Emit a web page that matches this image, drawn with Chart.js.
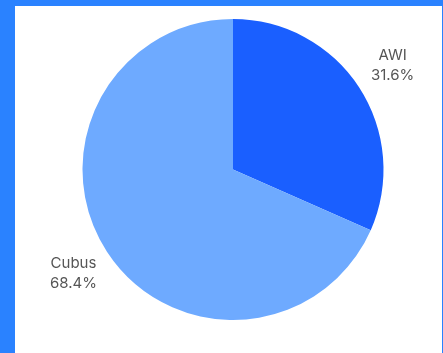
<!DOCTYPE html>
<html>
<head>
<meta charset="utf-8">
<script src="https://cdn.jsdelivr.net/npm/chart.js@4/dist/chart.umd.min.js"></script>
<style>
  html, body { margin: 0; padding: 0; }
  body { width: 443px; height: 353px; background: #2a82ff; position: relative; overflow: hidden; }
  #panel { position: absolute; left: 15px; top: 6px; width: 427px; height: 347px; background: #fff; }
</style>
</head>
<body>
<div id="panel"><canvas id="chart" width="427" height="347"></canvas></div>
<script>
const labels = ["AWI", "Cubus"];
const shares = [31.6, 68.4];
const colors = ["#1a5fff", "#6eaaff"];

// draws "name / pct" outside each slice
const outsideLabels = {
  id: "outsideLabels",
  afterDatasetsDraw(chart) {
    const ctx = chart.ctx;
    const meta = chart.getDatasetMeta(0);
    ctx.save();
    ctx.font = "15px Inter, 'Noto Sans', sans-serif";
    ctx.fillStyle = "#555555";
    ctx.textAlign = "center";
    ctx.textBaseline = "middle";
    meta.data.forEach((arc, i) => {
      const mid = (arc.startAngle + arc.endAngle) / 2;
      const r = arc.outerRadius + 40;
      const x = arc.x + Math.cos(mid) * r;
      const y = arc.y + Math.sin(mid) * r;
      ctx.fillText(labels[i], x, y - 10);
      ctx.fillText(shares[i].toFixed(1) + "%", x, y + 10);
    });
    ctx.restore();
  },
};

new Chart(document.getElementById("chart"), {
  type: "pie",
  data: {
    labels: labels,
    datasets: [{ data: shares, backgroundColor: colors, borderWidth: 0 }],
  },
  options: {
    responsive: false,
    animation: false,
    layout: { padding: { top: 13, bottom: 33, left: 60, right: 51 } },
    plugins: { legend: { display: false }, tooltip: { enabled: false } },
  },
  plugins: [outsideLabels],
});
</script>
</body>
</html>
